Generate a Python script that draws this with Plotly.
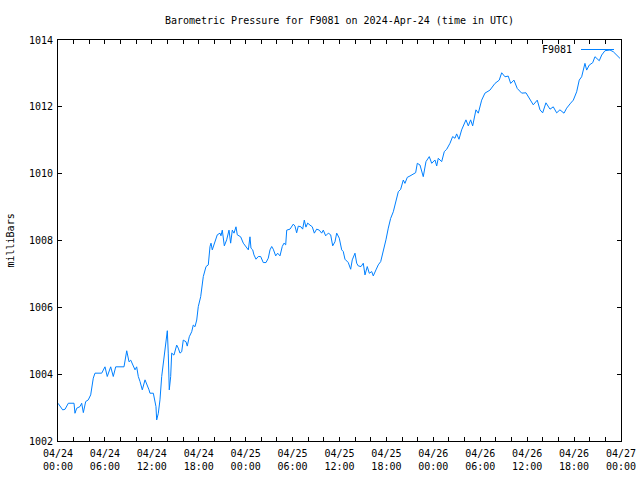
import pandas as pd
import plotly.graph_objects as go

# hours after 2024-04-24 00:00 UTC
hours = [0.00, 0.60, 0.90, 1.32, 2.05, 2.17, 2.39, 2.81, 3.03, 3.24, 3.54, 3.87, 4.18, 4.51, 4.73,
         5.59, 6.01, 6.30, 6.74, 7.07, 7.38, 8.44, 8.79, 9.08, 9.30, 9.63, 9.85, 10.06, 10.27, 10.49,
         10.78, 11.13, 11.42, 11.64, 11.76, 12.19, 12.53, 12.62, 12.83, 13.04, 13.26, 13.55, 13.90,
         13.98, 14.10, 14.23, 14.41, 14.54, 14.83, 15.18, 15.38, 15.60, 15.82, 16.02, 16.37, 16.53,
         16.79, 17.10, 17.30, 17.52, 17.74, 17.94, 18.25, 18.58, 18.93, 19.22, 19.44, 19.57, 19.73,
         20.08, 20.37, 20.72, 20.84, 21.01, 21.27, 21.57, 21.87, 22.08, 22.29, 22.51, 22.76, 22.93,
         23.36, 23.70, 24.13, 24.34, 24.55, 24.68, 24.90, 25.06, 25.32, 25.61, 25.92, 26.25, 26.60,
         26.89, 27.11, 27.33, 27.53, 27.84, 28.09, 28.39, 28.68, 28.90, 29.12, 29.25, 29.67, 30.09,
         30.31, 30.52, 30.73, 31.07, 31.29, 31.50, 31.71, 31.93, 32.23, 32.52, 32.78, 33.08, 33.41,
         33.72, 33.93, 34.23, 34.57, 34.87, 35.13, 35.42, 35.64, 35.97, 36.28, 36.48, 36.70, 37.12,
         37.43, 37.63, 37.98, 38.20, 38.40, 38.75, 39.04, 39.26, 39.55, 39.81, 40.12, 40.32, 40.66,
         40.96, 41.27, 41.60, 41.94, 42.24, 42.54, 42.88, 43.18, 43.52, 43.82, 44.16, 44.37, 44.67,
         45.01, 45.74, 45.95, 46.29, 46.71, 47.06, 47.48, 47.79, 48.21, 48.43, 48.63, 49.07, 49.40,
         49.71, 50.13, 50.47, 50.77, 50.98, 51.28, 51.62, 52.17, 52.47, 52.77, 53.03, 53.45, 53.75,
         54.18, 54.60, 55.24, 55.88, 56.43, 56.74, 57.16, 57.58, 57.89, 58.31, 58.73, 59.30, 59.85,
         60.36, 60.78, 61.29, 61.64, 61.98, 62.40, 62.92, 63.34, 63.77, 64.19, 64.71, 65.05, 65.56,
         65.90, 66.33, 66.66, 66.97, 67.39, 67.61, 67.94, 68.38, 68.67, 69.22, 69.53, 69.95, 70.59,
         71.01, 71.44, 71.87]

pressure = [1003.13, 1002.93, 1002.95, 1003.13, 1003.13, 1002.83, 1002.98, 1003.03, 1003.13, 1002.85,
            1003.18, 1003.23, 1003.38, 1003.88, 1004.03, 1004.03, 1004.22, 1003.93, 1004.22, 1003.93,
            1004.22, 1004.22, 1004.70, 1004.37, 1004.42, 1004.22, 1004.13, 1004.22, 1003.93, 1003.78,
            1003.53, 1003.83, 1003.68, 1003.53, 1003.43, 1003.43, 1003.03, 1002.63, 1002.83, 1003.23,
            1003.93, 1004.52, 1005.22, 1005.30, 1004.63, 1003.53, 1003.93, 1004.63, 1004.57, 1004.87,
            1004.78, 1004.63, 1004.67, 1005.02, 1004.97, 1004.84, 1005.12, 1005.27, 1005.47, 1005.42,
            1005.62, 1006.02, 1006.32, 1006.92, 1007.22, 1007.27, 1007.82, 1007.92, 1007.72, 1007.96,
            1008.17, 1008.22, 1008.14, 1008.31, 1007.84, 1008.02, 1008.31, 1007.92, 1008.31, 1008.22,
            1008.41, 1008.17, 1008.11, 1007.92, 1007.77, 1007.72, 1008.11, 1007.77, 1007.72, 1007.57,
            1007.44, 1007.52, 1007.52, 1007.34, 1007.34, 1007.47, 1007.72, 1007.82, 1007.74, 1007.54,
            1007.62, 1007.54, 1007.82, 1007.92, 1007.87, 1008.31, 1008.34, 1008.49, 1008.43, 1008.23,
            1008.43, 1008.41, 1008.34, 1008.61, 1008.40, 1008.52, 1008.46, 1008.41, 1008.22, 1008.34,
            1008.31, 1008.22, 1008.31, 1008.14, 1008.22, 1008.17, 1007.84, 1007.96, 1008.22, 1008.07,
            1007.72, 1007.67, 1007.44, 1007.34, 1007.14, 1007.42, 1007.62, 1007.32, 1007.24, 1007.22,
            1007.32, 1006.97, 1007.22, 1007.02, 1007.07, 1006.94, 1007.12, 1007.27, 1007.37, 1007.67,
            1008.02, 1008.37, 1008.66, 1008.86, 1009.16, 1009.46, 1009.53, 1009.81, 1009.71, 1009.89,
            1009.93, 1010.03, 1010.31, 1010.26, 1009.91, 1010.36, 1010.51, 1010.31, 1010.41, 1010.23,
            1010.46, 1010.36, 1010.66, 1010.73, 1010.91, 1011.11, 1011.06, 1011.19, 1011.03, 1011.31,
            1011.61, 1011.43, 1011.61, 1011.43, 1011.91, 1011.81, 1012.20, 1012.41, 1012.50, 1012.70,
            1012.80, 1013.02, 1012.90, 1012.92, 1012.70, 1012.80, 1012.55, 1012.41, 1012.42, 1012.23,
            1012.06, 1012.20, 1011.91, 1011.82, 1012.12, 1011.93, 1012.00, 1011.82, 1011.91, 1011.81,
            1011.96, 1012.11, 1012.20, 1012.45, 1012.80, 1012.90, 1013.30, 1013.10, 1013.25, 1013.32,
            1013.50, 1013.38, 1013.55, 1013.68, 1013.70, 1013.65, 1013.55, 1013.45]

start = pd.Timestamp("2024-04-24 00:00")
end = pd.Timestamp("2024-04-27 00:00")
times = start + pd.to_timedelta(hours, unit="h")

x_tick_labels = ["04/24<br>00:00", "04/24<br>06:00", "04/24<br>12:00", "04/24<br>18:00",
                 "04/25<br>00:00", "04/25<br>06:00", "04/25<br>12:00", "04/25<br>18:00",
                 "04/26<br>00:00", "04/26<br>06:00", "04/26<br>12:00", "04/26<br>18:00",
                 "04/27<br>00:00"]
x_tick_vals = pd.date_range(start, end, freq="6h")
y_tick_vals = [1002, 1004, 1006, 1008, 1010, 1012, 1014]

FONT = "DejaVu Sans Mono"
LINE_COLOR = "#0080ff"
W, H = 640, 480

fig = go.Figure()
fig.add_trace(go.Scatter(x=times, y=pressure, mode="lines", name="F9081",
                         line=dict(color=LINE_COLOR, width=1), showlegend=False))

fig.update_layout(
    width=W, height=H,
    margin=dict(l=58, r=19, t=40, b=39, autoexpand=False),
    paper_bgcolor="white", plot_bgcolor="white",
    font=dict(family=FONT, size=10, color="black"),
    title=dict(text="Barometric Pressure for F9081 on 2024-Apr-24 (time in UTC)",
               x=0.5, xref="paper", y=1 - 20 / H, yref="container",
               xanchor="center", yanchor="middle", automargin=False,
               font=dict(family=FONT, size=10, color="black")),
    xaxis=dict(type="date", range=[start, end], showgrid=False, zeroline=False,
               automargin=False,
               showline=True, linecolor="black", linewidth=1, mirror="allticks",
               ticks="inside", ticklen=4, tickcolor="black", tickwidth=1,
               tickvals=x_tick_vals, ticktext=x_tick_labels, ticklabelstandoff=3,
               ticklabeloverflow="allow",
               minor=dict(dtick=2 * 3600 * 1000, tick0=start, ticks="inside", ticklen=4,
                          tickcolor="black", tickwidth=1, showgrid=False),
               tickfont=dict(family=FONT, size=10)),
    yaxis=dict(range=[1002, 1014], showgrid=False, zeroline=False,
               automargin=False,
               showline=True, linecolor="black", linewidth=1, mirror="allticks",
               ticks="inside", ticklen=4, tickcolor="black", tickwidth=1,
               ticklabelstandoff=2,
               tickvals=y_tick_vals, tickfont=dict(family=FONT, size=10)),
)

fig.add_annotation(text="milliBars", textangle=-90, xref="paper", yref="paper",
                   x=-48 / 563, y=0.5, xanchor="center", yanchor="middle",
                   showarrow=False, font=dict(family=FONT, size=10))

# gnuplot-style key: label on the left, sample line on the right
fig.add_annotation(text="F9081", xref="paper", yref="paper",
                   x=(574 - 58) / 563, y=1 - 9.5 / 401, xanchor="right", yanchor="middle",
                   showarrow=False, font=dict(family=FONT, size=10))
fig.add_shape(type="line", xref="paper", yref="paper",
              x0=(581 - 58) / 563, x1=(614 - 58) / 563,
              y0=1 - 9.5 / 401, y1=1 - 9.5 / 401,
              line=dict(color=LINE_COLOR, width=1))

# remove the page's default body margin so the figure sits at the window's corner
fig.write_html("out.html",
               config={"displayModeBar": False, "staticPlot": True},
               post_script="document.body.style.margin='0';document.body.style.overflow='hidden';")
